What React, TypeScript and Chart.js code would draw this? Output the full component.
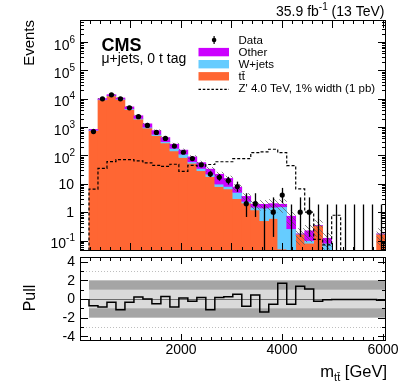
import React, { useEffect, useRef } from "react";
import { Chart, registerables } from "chart.js";

Chart.register(...registerables);

// ---------------- data ----------------
const binEdges = [178, 356, 534, 712, 890, 1068, 1246, 1424, 1602, 1780, 1958, 2136, 2314, 2492, 2670, 2848, 3026, 3204, 3382, 3560, 3738, 3916, 4094, 4272, 4450, 4628, 4806, 4984, 5162, 5340, 5518, 5696, 5874, 6052];
const dataCounts = [700, 10000, 13800, 10000, 4800, 2350, 1150, 650, 400, 215, 130, 78, 47, 22, 17, 13, 8, 2, 2, 0, 1, 4, 0, 1, 1, 0, 0, 0, 0, 0, 0, 0, 0];
const ttbar = [750, 9200, 12600, 9500, 4200, 1920, 930, 505, 277, 145, 85, 53, 29, 18, 8, 6.6, 3.0, 2.1, 1.2, 0.5, 0.6, 0.05, 0.04, 0.17, 0.08, 0.34, 0.03, 0.02, 0.02, 0.02, 0.02, 0.02, 0.17];
const wjets = [30, 300, 400, 300, 260, 120, 70, 55, 32, 33, 27, 7, 6, 4, 1.8, 1.5, 2.0, 0.3, 0.3, 0.9, 0.9, 1.5, 0.22, 0, 0.02, 0, 0.05, 0, 0, 0, 0, 0, 0];
const other = [50, 700, 1000, 900, 740, 490, 310, 195, 120, 72, 43, 29, 21, 11, 12, 7.4, 2.6, 1.2, 0.4, 0.5, 0.5, 0.35, 0.46, 0, 0.12, 0, 0.04, 0, 0, 0, 0, 0, 0];
const zprime = [6.5, 35, 61, 72, 72, 65, 55, 45, 41, 49, 27.5, 45, 42, 48, 60, 60, 78, 78, 126, 134, 166, 126, 44, 6.6, 1.0, 0.11, 0.07, 0.78, 0, 0, 0, 0, 0];
const bkgRelUnc = [0.06, 0.06, 0.06, 0.06, 0.07, 0.08, 0.09, 0.1, 0.11, 0.12, 0.13, 0.15, 0.17, 0.19, 0.22, 0.25, 0.28, 0.3, 0.35, 0.4, 0.45, 0.5, 0.55, 0.6, 0.6, 0.6, 0.6, 0.6, 0.6, 0.6, 0.6, 0.6, 0.6];
const pull = [-0.72, -0.86, -0.36, -1.15, -0.36, 0.21, 0, -0.5, 0.28, -0.86, 0.1, -0.25, 0.15, -1.15, 0.15, 0.25, 0.5, -0.79, 0.43, -1.4, -0.57, 1.68, -0.57, 1.36, 1.07, -0.25, -0.07, -0.05, -0.05, -0.05, -0.05, -0.05, -0.14];

const mainYExponents = [-1, 0, 1, 2, 3, 4, 5, 6];
const pullYTicks = [-4, -2, 0, 2, 4];
const xTickLabels = [2000, 4000, 6000];
const legendLabels = ["Data", "Other", "W+jets", "tt\u0304", "Z' 4.0 TeV, 1% width (1 pb)"];

// ---------------- style / layout ----------------
const FONT = '"Liberation Sans", Arial, Helvetica, sans-serif';
const COL_TT = "rgb(255,102,51)";
const COL_W = "rgb(102,204,255)";
const COL_OTHER = "rgb(204,0,255)";
const X_MIN = 0;
const X_MAX = 6060;
const Y_MIN = 0.04266;
const Y_MAX = 6.03e6;
const FLOOR = 1e-4;
const MAIN_H = 255;
const PULL_TOP = 255;
const PULL_H = 132;

const centers = binEdges.slice(0, -1).map((e, i) => (e + binEdges[i + 1]) / 2);
const pos = (v: number) => (v > 0 ? v : FLOOR);
const poisUp = (n: number) => n + Math.sqrt(n + 0.75) + 1;
const poisLo = (n: number) => (n > 0 ? n - Math.sqrt(n - 0.25) : 0);

function stepPoints(vals: number[], zero: number) {
  const pts: { x: number; y: number }[] = [{ x: binEdges[0], y: zero }];
  vals.forEach((v, i) => pts.push({ x: binEdges[i], y: v }));
  pts.push({ x: binEdges[binEdges.length - 1], y: vals[vals.length - 1] });
  return pts;
}

function makeHatch(): CanvasPattern | string {
  const c = document.createElement("canvas");
  c.width = 5;
  c.height = 5;
  const g = c.getContext("2d");
  if (!g) return "rgba(0,0,0,0)";
  g.strokeStyle = "rgba(95,95,95,0.85)";
  g.lineWidth = 0.9;
  g.beginPath();
  g.moveTo(-1, -1);
  g.lineTo(6, 6);
  g.moveTo(-1, 4);
  g.lineTo(1, 6);
  g.moveTo(4, -1);
  g.lineTo(6, 1);
  g.stroke();
  return g.createPattern(c, "repeat") || "rgba(0,0,0,0)";
}

function drawSup(ctx: CanvasRenderingContext2D, base: string, sup: string, xRight: number, yBase: number, bSize: number, sSize: number, raise: number) {
  ctx.font = `${sSize}px ${FONT}`;
  const ws = sup ? ctx.measureText(sup).width : 0;
  ctx.font = `${bSize}px ${FONT}`;
  const wb = ctx.measureText(base).width;
  ctx.textAlign = "left";
  ctx.textBaseline = "alphabetic";
  ctx.fillText(base, xRight - ws - wb, yBase);
  if (sup) {
    ctx.font = `${sSize}px ${FONT}`;
    ctx.fillText(sup, xRight - ws, yBase - raise);
  }
}

function drawFrame(ctx: CanvasRenderingContext2D, a: { left: number; right: number; top: number; bottom: number }) {
  ctx.fillStyle = "#000";
  const l = Math.round(a.left), r = Math.round(a.right), t = Math.round(a.top), b = Math.round(a.bottom);
  ctx.fillRect(l, t, r - l, 1);
  ctx.fillRect(l, b - 1, r - l, 1);
  ctx.fillRect(l, t, 1, b - t);
  ctx.fillRect(r - 1, t, 1, b - t);
}

const mainDecor = {
  id: "mainDecor",
  afterDatasetsDraw(chart: any) {
    const { ctx, chartArea: a } = chart;
    const x = chart.scales.x;
    const y = chart.scales.y;
    ctx.save();
    // data error bars
    ctx.save();
    ctx.beginPath();
    ctx.rect(a.left, a.top, a.right - a.left, a.bottom - a.top);
    ctx.clip();
    ctx.strokeStyle = "#000";
    ctx.lineWidth = 1.3;
    centers.forEach((c, i) => {
      const n = dataCounts[i];
      const px = Math.round(x.getPixelForValue(c)) + 0.5;
      const yHi = y.getPixelForValue(poisUp(n));
      const yLo = n > 0 ? y.getPixelForValue(poisLo(n)) : a.bottom + 2;
      ctx.beginPath();
      ctx.moveTo(px, yHi);
      ctx.lineTo(px, yLo);
      ctx.stroke();
    });
    ctx.restore();

    drawFrame(ctx, a);
    ctx.fillStyle = "#000";
    const top = Math.round(a.top), bot = Math.round(a.bottom);
    const lft = Math.round(a.left), rgt = Math.round(a.right);
    // x ticks
    for (let v = 200; v <= 6000; v += 200) {
      const px = Math.round(x.getPixelForValue(v));
      const len = v % 1000 === 0 ? 8 : 4;
      ctx.fillRect(px, bot - len, 1, len);
      ctx.fillRect(px, top, 1, len);
    }
    // y log ticks
    for (let e = -2; e <= 7; e++) {
      for (let m = 1; m <= 9; m++) {
        const v = m * Math.pow(10, e);
        if (v <= Y_MIN || v >= Y_MAX) continue;
        const py = Math.round(y.getPixelForValue(v));
        const len = m === 1 ? 8 : 4;
        ctx.fillRect(lft, py, len, 1);
        ctx.fillRect(rgt - len, py, len, 1);
      }
    }
    // y tick labels
    ctx.fillStyle = "#000";
    mainYExponents.forEach((e) => {
      const py = y.getPixelForValue(Math.pow(10, e));
      if (e === 0) drawSup(ctx, "1", "", 74, py + 5, 14, 10, 0);
      else if (e === 1) drawSup(ctx, "10", "", 74, py + 5, 14, 10, 0);
      else drawSup(ctx, "10", String(e), 75, py + 7.5, 14, 10, 7);
    });
    // axis title
    ctx.save();
    ctx.translate(34, 20);
    ctx.rotate(-Math.PI / 2);
    ctx.font = `15px ${FONT}`;
    ctx.textAlign = "right";
    ctx.textBaseline = "alphabetic";
    ctx.fillText("Events", 0, 0);
    ctx.restore();
    // luminosity
    ctx.font = `14px ${FONT}`;
    const p1 = "35.9 fb", p2 = "-1", p3 = " (13 TeV)";
    const w1 = ctx.measureText(p1).width;
    const w3 = ctx.measureText(p3).width;
    ctx.font = `10px ${FONT}`;
    const w2 = ctx.measureText(p2).width;
    const xr = 384.5;
    ctx.textAlign = "left";
    ctx.font = `14px ${FONT}`;
    ctx.fillText(p1, xr - w1 - w2 - w3, 15.5);
    ctx.fillText(p3, xr - w3, 15.5);
    ctx.font = `10px ${FONT}`;
    ctx.fillText(p2, xr - w3 - w2, 10);
    // CMS
    ctx.font = `bold 18px ${FONT}`;
    ctx.fillText("CMS", 101.5, 50.5);
    ctx.font = `14px ${FONT}`;
    ctx.fillText("\u03bc+jets, 0 t tag", 101.5, 63);
    // legend
    const rowY = [40, 52.1, 64.2, 76.3, 88.4];
    ctx.font = `11.5px ${FONT}`;
    ctx.textBaseline = "middle";
    legendLabels.forEach((t, i) => ctx.fillText(t, 238.5, rowY[i] + 0.5));
    // data marker
    ctx.fillRect(213.5, rowY[0] - 4, 1.2, 8);
    ctx.beginPath();
    ctx.arc(214.1, rowY[0], 2.3, 0, Math.PI * 2);
    ctx.fill();
    const sw = [COL_OTHER, COL_W, COL_TT];
    sw.forEach((c, i) => {
      ctx.fillStyle = c;
      ctx.fillRect(198.5, rowY[i + 1] - 4.2, 30.5, 8.4);
    });
    ctx.strokeStyle = "#000";
    ctx.lineWidth = 1.2;
    ctx.setLineDash([2.5, 1.8]);
    ctx.beginPath();
    ctx.moveTo(198.5, rowY[4] + 1);
    ctx.lineTo(229, rowY[4] + 1);
    ctx.stroke();
    ctx.setLineDash([]);
    ctx.restore();
  },
};

const pullDecor = {
  id: "pullDecor",
  beforeDatasetsDraw(chart: any) {
    const { ctx, chartArea: a } = chart;
    const x = chart.scales.x;
    const y = chart.scales.y;
    ctx.save();
    const x0 = x.getPixelForValue(binEdges[0]);
    const x1 = x.getPixelForValue(binEdges[binEdges.length - 1]);
    ctx.fillStyle = "rgb(165,165,165)";
    ctx.fillRect(x0, y.getPixelForValue(2), x1 - x0, y.getPixelForValue(-2) - y.getPixelForValue(2));
    ctx.fillStyle = "rgb(218,218,218)";
    ctx.fillRect(x0, y.getPixelForValue(1), x1 - x0, y.getPixelForValue(-1) - y.getPixelForValue(1));
    ctx.strokeStyle = "rgb(190,190,190)";
    ctx.lineWidth = 1;
    ctx.setLineDash([1, 2]);
    [3, -3].forEach((v) => {
      const py = Math.round(y.getPixelForValue(v)) + 0.5;
      ctx.beginPath();
      ctx.moveTo(a.left, py);
      ctx.lineTo(a.right, py);
      ctx.stroke();
    });
    ctx.setLineDash([]);
    ctx.strokeStyle = "rgb(110,110,110)";
    const p0 = Math.round(y.getPixelForValue(0)) + 0.5;
    ctx.beginPath();
    ctx.moveTo(a.left, p0);
    ctx.lineTo(a.right, p0);
    ctx.stroke();
    ctx.restore();
  },
  afterDatasetsDraw(chart: any) {
    const { ctx, chartArea: a } = chart;
    const x = chart.scales.x;
    const y = chart.scales.y;
    ctx.save();
    drawFrame(ctx, a);
    const top = Math.round(a.top), bot = Math.round(a.bottom);
    const lft = Math.round(a.left), rgt = Math.round(a.right);
    ctx.fillStyle = "#000";
    for (let v = 200; v <= 6000; v += 200) {
      const px = Math.round(x.getPixelForValue(v));
      const len = v % 2000 === 0 ? 7 : 4;
      ctx.fillRect(px, bot - len, 1, len);
      ctx.fillRect(px, top, 1, len);
    }
    for (let v = -4; v <= 4; v++) {
      const py = Math.round(y.getPixelForValue(v));
      const len = v % 2 === 0 ? 8 : 4;
      ctx.fillRect(lft, py, len, 1);
      ctx.fillRect(rgt - len, py, len, 1);
    }
    ctx.font = `14px ${FONT}`;
    ctx.textBaseline = "middle";
    ctx.textAlign = "right";
    pullYTicks.forEach((v) => ctx.fillText(String(v), 75, y.getPixelForValue(v) + 0.5));
    ctx.textAlign = "center";
    ctx.textBaseline = "alphabetic";
    xTickLabels.forEach((v) => ctx.fillText(String(v), x.getPixelForValue(v), 98.5));
    // Pull title
    ctx.save();
    ctx.translate(35, 43);
    ctx.rotate(-Math.PI / 2);
    ctx.font = `16px ${FONT}`;
    ctx.textAlign = "center";
    ctx.fillText("Pull", 0, 0);
    ctx.restore();
    // x title
    ctx.textAlign = "left";
    const big = `16.5px ${FONT}`;
    const small = `11px ${FONT}`;
    ctx.font = big;
    const wm = ctx.measureText("m").width;
    const wg = ctx.measureText(" [GeV]").width;
    ctx.font = small;
    const wt = ctx.measureText("tt\u0304").width;
    const xr = 387;
    const yb = 122;
    ctx.font = big;
    ctx.fillText("m", xr - wg - wt - wm, yb);
    ctx.fillText(" [GeV]", xr - wg, yb);
    ctx.font = small;
    ctx.fillText("tt\u0304", xr - wg - wt, yb + 4);
    ctx.restore();
  },
};

export default function App() {
  const mainRef = useRef<HTMLCanvasElement>(null);
  const pullRef = useRef<HTMLCanvasElement>(null);

  useEffect(() => {
    if (!mainRef.current || !pullRef.current) return;
    const hatch = makeHatch();
    const total = ttbar.map((t, i) => t + wjets[i] + other[i]);
    const barCommon = {
      type: "bar" as const,
      grouped: false,
      barPercentage: 1,
      categoryPercentage: 1,
      borderWidth: 0,
    };
    const main = new Chart(mainRef.current, {
      type: "bar",
      data: {
        datasets: [
          {
            type: "line",
            label: "Data",
            data: centers.map((c, i) => ({ x: c, y: dataCounts[i] > 0 ? dataCounts[i] : null })),
            showLine: false,
            pointRadius: 2.6,
            pointBackgroundColor: "#000",
            pointBorderWidth: 0,
            order: 0,
          } as any,
          {
            type: "line",
            label: "Z' 4.0 TeV, 1% width (1 pb)",
            data: stepPoints(zprime.map(pos), FLOOR),
            stepped: true,
            borderColor: "#000",
            borderWidth: 1.2,
            borderDash: [3, 2],
            pointRadius: 0,
            fill: false,
            order: 1,
          } as any,
          {
            ...barCommon,
            label: "Uncertainty",
            data: centers.map((c, i) => ({ x: c, y: [pos(total[i] * (1 - bkgRelUnc[i])), pos(total[i] * (1 + bkgRelUnc[i]))] })),
            backgroundColor: hatch,
            inflateAmount: 0,
            order: 2,
          } as any,
          {
            ...barCommon,
            label: "Other",
            data: centers.map((c, i) => ({ x: c, y: [pos(ttbar[i] + wjets[i]), pos(total[i])] })),
            backgroundColor: COL_OTHER,
            order: 3,
          } as any,
          {
            ...barCommon,
            label: "W+jets",
            data: centers.map((c, i) => ({ x: c, y: [pos(ttbar[i]), pos(ttbar[i] + wjets[i])] })),
            backgroundColor: COL_W,
            order: 4,
          } as any,
          {
            ...barCommon,
            label: "tt\u0304",
            data: centers.map((c, i) => ({ x: c, y: [FLOOR, pos(ttbar[i])] })),
            backgroundColor: COL_TT,
            order: 5,
          } as any,
        ],
      },
      options: {
        responsive: false,
        animation: false,
        events: [],
        layout: { padding: { left: 80, right: 25, top: 20, bottom: 2.7 } },
        plugins: { legend: { display: false }, tooltip: { enabled: false } },
        scales: {
          x: { type: "linear", min: X_MIN, max: X_MAX, offset: false, display: false, grid: { offset: false }, ticks: { stepSize: 2020 } },
          y: { type: "logarithmic", min: Y_MIN, max: Y_MAX, display: false },
        },
      },
      plugins: [mainDecor],
    } as any);

    const pullChart = new Chart(pullRef.current, {
      type: "line",
      data: {
        datasets: [
          {
            label: "Pull",
            data: stepPoints(pull, 0),
            stepped: true,
            borderColor: "#000",
            borderWidth: 1.5,
            pointRadius: 0,
            fill: false,
          },
        ],
      },
      options: {
        responsive: false,
        animation: false,
        events: [],
        layout: { padding: { left: 80, right: 25, top: 2, bottom: 46 } },
        plugins: { legend: { display: false }, tooltip: { enabled: false } },
        scales: {
          x: { type: "linear", min: X_MIN, max: X_MAX, offset: false, display: false },
          y: { type: "linear", min: -4.5, max: 4.5, display: false },
        },
      },
      plugins: [pullDecor],
    } as any);

    return () => {
      main.destroy();
      pullChart.destroy();
    };
  }, []);

  return (
    <div style={{ position: "absolute", left: 0, top: 0, width: 411, height: 387, background: "#fff" }}>
      <canvas ref={mainRef} width={411} height={MAIN_H} style={{ position: "absolute", left: 0, top: 0 }} />
      <canvas ref={pullRef} width={411} height={PULL_H} style={{ position: "absolute", left: 0, top: PULL_TOP }} />
    </div>
  );
}
